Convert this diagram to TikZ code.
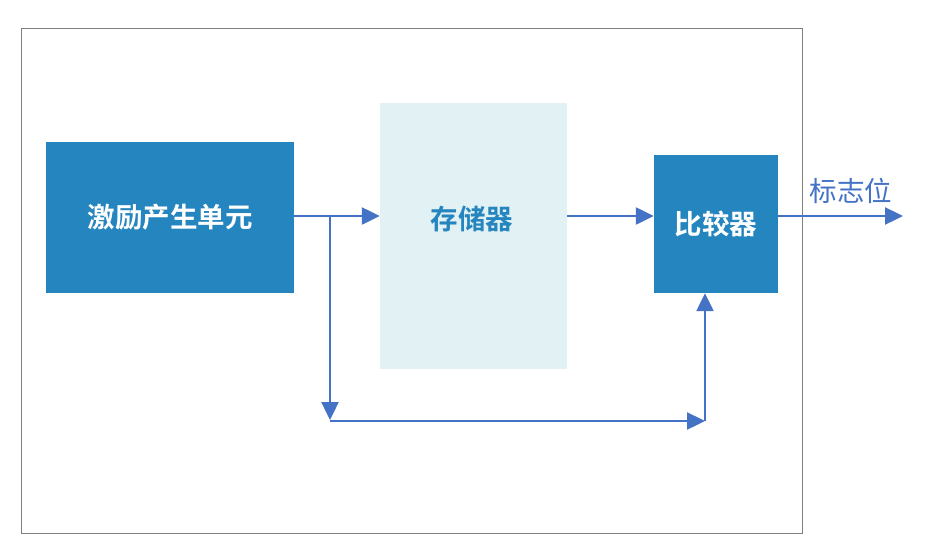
\documentclass[tikz,border=0pt]{standalone}
\usepackage{fontspec}
\setmainfont{Noto Sans CJK SC}
\newfontfamily\cjkb{Noto Sans CJK SC Bold}
\usetikzlibrary{arrows.meta}
\definecolor{boxblue}{HTML}{2585BF}
\definecolor{memfill}{HTML}{E2F1F4}
\definecolor{arrblue}{HTML}{4472C4}
\definecolor{framegray}{HTML}{808080}
\tikzset{
  blk/.style={fill=boxblue, draw=none, text=white, font=\cjkb\fontsize{27.5}{30}\selectfont, inner sep=0pt},
  mem/.style={fill=memfill, draw=none, inner sep=0pt},
  conn/.style={draw=arrblue, line width=2.4pt},
  arr/.style={conn, -{Triangle[length=18pt,width=17pt]}},
}
\begin{document}
\begin{tikzpicture}[x=1pt,y=-1pt]
\useasboundingbox (0,0) rectangle (935,536);
\draw[framegray, line width=1pt] (21,28) rectangle (802,533);
\node[blk, minimum width=248pt, minimum height=151pt] (gen) at (170,217.5) {激励产生单元};
\node[mem, minimum width=187pt, minimum height=266pt] (mem) at (473.5,236) {};
\node[text=boxblue, font=\cjkb\fontsize{27.5}{30}\selectfont] (memt) at (472,219) {存储器};
\node[blk, minimum width=124pt, minimum height=138pt] (cmp) at (716,224) {比较器};
\coordinate (j) at (330,216);
\coordinate (dl) at (330,420);
\coordinate (bl) at (330,421);
\coordinate (br) at (705,421);
\coordinate (out) at (903,216);
\draw[arr] (gen.east |- j) -- (mem.west |- j);
\draw[arr] (j) -- (dl);
\draw[arr] (bl) -- (br);
\draw[arr] (br) -- (cmp.south -| br);
\draw[arr] (mem.east |- j) -- (cmp.west |- j);
\draw[arr] (cmp.east |- j) -- (out);
\node[text=arrblue, font=\fontsize{27.5}{30}\selectfont] (flag) at (851,191) {标志位};
\end{tikzpicture}
\end{document}
